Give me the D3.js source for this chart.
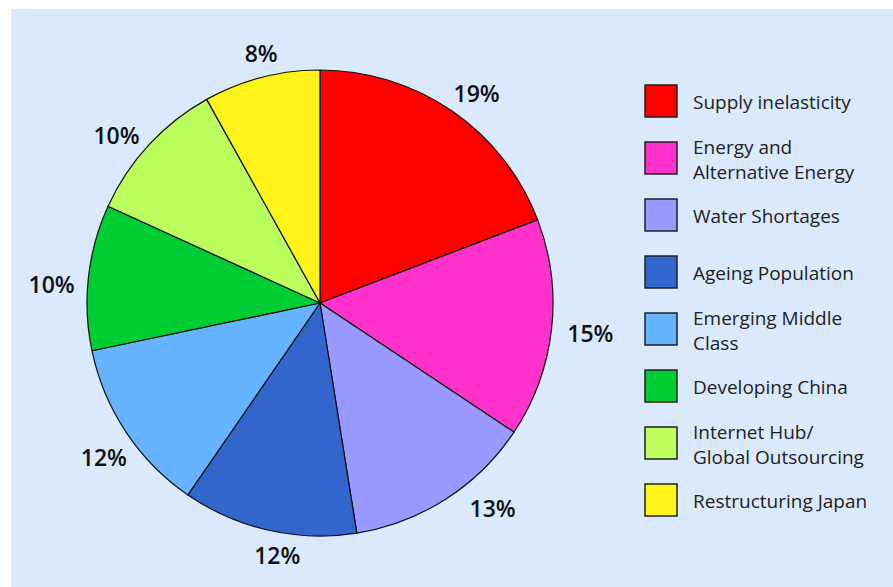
<!DOCTYPE html>
<html>
<head>
<meta charset="utf-8">
<script src="https://cdn.jsdelivr.net/npm/d3@7"></script>
<style>
  html, body { margin: 0; padding: 0; background: #ffffff; }
  svg { display: block; }
</style>
</head>
<body>
<svg id="chart" width="893" height="587"></svg>
<script>
// Themes and their shares (percent)
const categories = [
  "Supply inelasticity",
  "Energy and\nAlternative Energy",
  "Water Shortages",
  "Ageing Population",
  "Emerging Middle\nClass",
  "Developing China",
  "Internet Hub/\nGlobal Outsourcing",
  "Restructuring Japan"
];
const shares = [19, 15, 13, 12, 12, 10, 10, 8];
const colors = ["#ff0000", "#ff33cc", "#9999ff", "#3366cc", "#66b3ff", "#00cc33", "#bbff5f", "#fff41a"];
// small hand adjustments (px) for the percentage labels around the rim
const labelNudge = [[8, 6], [10, 1], [31, -15], [15, -4], [2, 9], [-8, 10], [-11, 10], [7, 4]];

const width = 893, height = 587;
const svg = d3.select("#chart");

// panel background
svg.append("rect")
  .attr("x", 11).attr("y", 9)
  .attr("width", width - 11).attr("height", height - 9)
  .attr("fill", "#daeafc");

const cx = 320, cy = 303, radius = 233;
const data = categories.map((c, i) => ({ name: c, value: shares[i], color: colors[i], nudge: labelNudge[i] }));

const pie = d3.pie().value(d => d.value).sort(null);
const arcs = pie(data);
const arc = d3.arc().innerRadius(0).outerRadius(radius);
const labelArc = d3.arc().innerRadius(262).outerRadius(262);

const g = svg.append("g").attr("transform", `translate(${cx},${cy})`);

g.selectAll("path.slice")
  .data(arcs)
  .join("path")
  .attr("class", "slice")
  .attr("d", arc)
  .attr("fill", d => d.data.color)
  .attr("stroke", "#111")
  .attr("stroke-width", 1.2)
  .attr("stroke-linejoin", "round");

g.selectAll("text.pct")
  .data(arcs)
  .join("text")
  .attr("class", "pct")
  .attr("transform", d => {
    const [x, y] = labelArc.centroid(d);
    return `translate(${x + d.data.nudge[0]},${y + d.data.nudge[1]})`;
  })
  .attr("text-anchor", "middle")
  .attr("dominant-baseline", "central")
  .attr("font-family", "'Open Sans', sans-serif")
  .attr("font-weight", 600)
  .attr("font-size", 23)
  .attr("fill", "#111")
  .text(d => d.data.value + "%");

// legend
const legend = svg.append("g").attr("transform", "translate(645,85)");
const item = legend.selectAll("g.item")
  .data(data)
  .join("g")
  .attr("class", "item")
  .attr("transform", (d, i) => `translate(0,${i * 57})`);

item.append("rect")
  .attr("width", 32).attr("height", 32)
  .attr("fill", d => d.color)
  .attr("stroke", "#222")
  .attr("stroke-width", 1.5);

item.each(function(d) {
  const lines = d.name.split("\n");
  const t = d3.select(this).append("text")
    .attr("x", 48)
    .attr("font-family", "'Open Sans', sans-serif")
    .attr("font-size", 19)
    .attr("fill", "#222");
  const lh = 25;
  const y0 = 16 - (lines.length - 1) * lh / 2 + 1;
  lines.forEach((ln, k) => {
    t.append("tspan")
      .attr("x", 48)
      .attr("y", y0 + k * lh)
      .attr("dominant-baseline", "central")
      .text(ln);
  });
});
</script>
</body>
</html>
